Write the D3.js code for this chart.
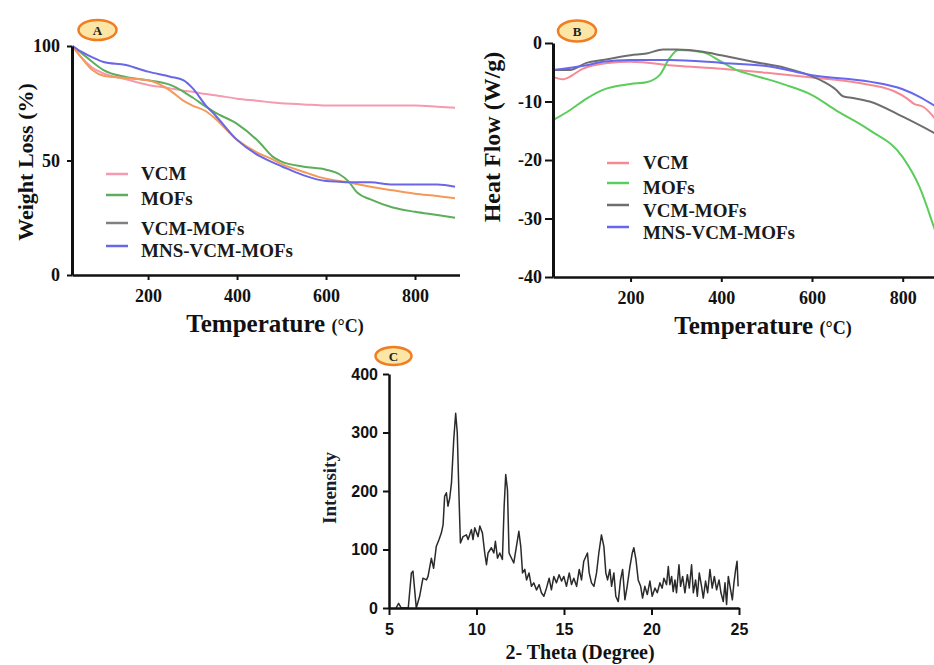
<!DOCTYPE html>
<html>
<head>
<meta charset="utf-8">
<script src="https://cdn.jsdelivr.net/npm/d3@7"></script>
<style>
  body { margin: 0; background: #fff; }
  svg { display: block; }
</style>
</head>
<body>
<script>
// ---- data ----

// Panel A: TGA (weight %, vs temperature)
const tgaTemp = [30, 50, 75, 100, 150, 200, 250, 280, 300, 330, 350, 400, 450, 480, 500, 550, 600, 630, 650, 670, 700, 750, 800, 850, 890];
const tgaVcm = [100, 95, 90.5, 88, 85.5, 83, 81.5, 80.5, 80, 79, 78.5, 77, 76, 75.3, 75, 74.5, 74, 74, 74, 74, 74, 74, 74, 73.5, 73];
const tgaMofs = [100, 97, 93, 89.5, 86.5, 85, 83, 80, 77.5, 73.5, 71, 66, 58, 51.7, 49.5, 47.3, 46, 44, 41, 36, 33, 29.5, 27.6, 26.2, 25];
const tgaVcmMofs = [100, 95, 89.5, 87, 86, 85, 80.5, 76, 74, 71.5, 68.5, 59, 53, 50.5, 48.5, 45, 42, 41, 40.5, 39.7, 38.5, 37, 35.5, 34.5, 33.5];
const tgaMns = [100, 97.5, 95, 93, 91.7, 88.8, 86.6, 85, 81.6, 74, 70, 59, 52, 49.2, 47.5, 43.5, 41, 40.7, 40.5, 40.5, 40.5, 39.5, 39.5, 39.5, 38.5];

// Panel B: DSC (heat flow W/g vs temperature), [temp, value]
const dscVcm = [[29, -5.8], [50, -6.2], [70, -5.6], [90, -4.6], [120, -3.8], [150, -3.4], [200, -3.2], [300, -3.9], [400, -4.4], [500, -5.1], [600, -5.9], [700, -6.8], [780, -8.2], [810, -9.5], [825, -10.4], [845, -10.9], [880, -13.8]];
const dscMofs = [[29, -13.2], [66, -11.5], [103, -9.5], [139, -8.0], [200, -7.0], [235, -6.7], [264, -5.5], [286, -2.6], [305, -1.2], [360, -1.6], [400, -3.2], [433, -4.6], [470, -5.5], [507, -6.3], [543, -7.2], [600, -8.9], [653, -11.5], [727, -14.9], [800, -19.5], [837, -24.6], [869, -31.5], [880, -34]];
const dscVcmMofs = [[29, -4.6], [66, -4.6], [103, -3.4], [139, -2.9], [200, -2.1], [235, -1.8], [272, -1.1], [301, -1.1], [360, -1.5], [400, -2.1], [470, -3.2], [543, -4.3], [600, -5.7], [625, -6.6], [653, -8.0], [668, -9.1], [690, -9.4], [727, -10.0], [800, -12.6], [880, -15.8]];
const dscMns = [[29, -4.6], [103, -3.8], [139, -3.2], [200, -2.9], [286, -2.9], [400, -3.4], [507, -4.0], [600, -5.5], [727, -6.6], [800, -7.9], [837, -9.2], [880, -11.2]];

// Panel C: XRD
const xrdTheta = [5.4, 5.55, 5.7, 6.1, 6.28, 6.37, 6.56, 6.75, 6.94, 7.14, 7.23, 7.42, 7.55, 7.7, 7.86, 7.99, 8.09, 8.18, 8.28, 8.37, 8.47, 8.57, 8.7, 8.81, 8.9, 9.0, 9.08, 9.23, 9.42, 9.52, 9.71, 9.8, 9.9, 10.09, 10.19, 10.34, 10.47, 10.57, 10.66, 10.85, 10.99, 11.08, 11.2, 11.33, 11.48, 11.58, 11.67, 11.77, 11.86, 12.0, 12.13, 12.28, 12.42, 12.53, 12.63, 12.76, 12.86, 13.0, 13.14, 13.27, 13.43, 13.58, 13.71, 13.85, 14.0, 14.15, 14.28, 14.42, 14.57, 14.72, 14.86, 14.99, 15.14, 15.3, 15.43, 15.56, 15.72, 15.87, 16.0, 16.13, 16.25, 16.34, 16.44, 16.57, 16.71, 16.86, 16.99, 17.14, 17.28, 17.39, 17.49, 17.62, 17.72, 17.85, 17.96, 18.1, 18.23, 18.35, 18.48, 18.61, 18.77, 18.9, 18.99, 19.11, 19.24, 19.38, 19.49, 19.62, 19.76, 19.91, 20.04, 20.2, 20.33, 20.48, 20.61, 20.71, 20.86, 20.96, 21.05, 21.15, 21.24, 21.34, 21.43, 21.57, 21.66, 21.78, 21.91, 22.05, 22.16, 22.29, 22.39, 22.52, 22.62, 22.73, 22.86, 22.96, 23.09, 23.21, 23.34, 23.47, 23.59, 23.72, 23.86, 23.97, 24.1, 24.2, 24.29, 24.39, 24.52, 24.62, 24.71, 24.81, 24.89, 24.95];
const xrdCounts = [0, 8, 0, 0, 60, 63, 0, 20, 51, 48, 54, 85, 68, 105, 117, 128, 142, 191, 197, 174, 188, 214, 288, 333, 300, 191, 111, 122, 125, 117, 134, 117, 137, 122, 140, 128, 94, 74, 94, 103, 94, 114, 85, 94, 83, 174, 228, 202, 94, 85, 77, 105, 131, 105, 60, 66, 48, 60, 37, 43, 31, 40, 26, 20, 34, 51, 31, 54, 43, 57, 46, 54, 37, 60, 40, 51, 37, 66, 48, 80, 88, 94, 60, 43, 37, 60, 94, 125, 105, 60, 48, 66, 37, 60, 20, 11, 48, 66, 14, 37, 71, 94, 103, 83, 48, 37, 17, 37, 23, 46, 20, 34, 26, 43, 34, 51, 40, 71, 40, 54, 28, 48, 26, 74, 37, 54, 26, 57, 34, 74, 26, 48, 20, 60, 37, 17, 46, 26, 66, 34, 54, 31, 48, 26, 11, 43, 6, 54, 31, 14, 43, 66, 80, 37];

const seriesNames = ['VCM', 'MOFs', 'VCM-MOFs', 'MNS-VCM-MOFs'];
const tempTicks = [200, 400, 600, 800];

// colours
const colA = ['#f59aaf', '#5cae5c', '#f4995a', '#6a66e8'];
const colB = ['#f48a94', '#5ccc5c', '#6e6e6e', '#6666ee'];
const legendColA = ['#f59aaf', '#5cae5c', '#808080', '#6a66e8'];

const serif = '"Liberation Serif", "Times New Roman", serif';
const sans = '"Liberation Sans", Arial, sans-serif';
const plain = d => String(d); // keep ascii hyphen for negatives

const svg = d3.select('body').append('svg')
  .attr('width', 934)
  .attr('height', 665);

function styleAxis(g, fontFamily, fontSize, strokeW) {
  g.selectAll('path.domain').attr('stroke', '#111').attr('stroke-width', strokeW);
  g.selectAll('.tick line').attr('stroke', '#111').attr('stroke-width', 2);
  g.selectAll('.tick text')
    .attr('fill', '#111')
    .style('font-family', fontFamily)
    .style('font-weight', 'bold')
    .style('font-size', fontSize + 'px');
}

function badge(cx, cy, rx, ry, letter) {
  svg.append('ellipse')
    .attr('cx', cx).attr('cy', cy).attr('rx', rx).attr('ry', ry)
    .attr('fill', '#fbe6a6').attr('stroke', '#f07d22').attr('stroke-width', 2.5);
  svg.append('text')
    .attr('x', cx).attr('y', cy + 5)
    .attr('text-anchor', 'middle')
    .style('font-family', serif).style('font-weight', 'bold').style('font-size', '13px')
    .attr('fill', '#222')
    .text(letter);
}

function tempLabel(cx, y) {
  const t = svg.append('text')
    .attr('x', cx).attr('y', y)
    .attr('text-anchor', 'middle')
    .style('font-family', serif).style('font-weight', 'bold')
    .attr('fill', '#111');
  t.append('tspan').style('font-size', '25px').text('Temperature ');
  t.append('tspan').style('font-size', '18px').text('(°C)');
}

function legend(x0, x1, tx, lineYs, textYs, colors) {
  seriesNames.forEach((name, i) => {
    svg.append('line')
      .attr('x1', x0).attr('x2', x1)
      .attr('y1', lineYs[i]).attr('y2', lineYs[i])
      .attr('stroke', colors[i]).attr('stroke-width', 2.5);
    svg.append('text')
      .attr('x', tx).attr('y', textYs[i])
      .style('font-family', serif).style('font-weight', 'bold').style('font-size', '19px')
      .attr('fill', '#1a1a1a')
      .text(name);
  });
}

// ---------------- Panel A ----------------
const xA = d3.scaleLinear().domain([29, 900]).range([72, 459.5]);
const yA = d3.scaleLinear().domain([0, 100]).range([275, 46]);

const lineA = d3.line()
  .x(d => xA(d[0]))
  .y(d => yA(d[1]))
  .curve(d3.curveMonotoneX);

[tgaVcm, tgaMofs, tgaVcmMofs, tgaMns].forEach((vals, i) => {
  svg.append('path')
    .datum(tgaTemp.map((t, j) => [t, vals[j]]))
    .attr('d', lineA)
    .attr('fill', 'none')
    .attr('stroke', colA[i])
    .attr('stroke-width', 2);
});

svg.append('g')
  .attr('transform', 'translate(0,275)')
  .call(d3.axisBottom(xA).tickValues(tempTicks).tickFormat(plain).tickSize(5).tickPadding(9).tickSizeOuter(0))
  .call(g => styleAxis(g, serif, 18, 2.5));
svg.append('g')
  .attr('transform', 'translate(72,0)')
  .call(d3.axisLeft(yA).tickValues([0, 50, 100]).tickFormat(plain).tickSize(5).tickPadding(7).tickSizeOuter(0))
  .call(g => styleAxis(g, serif, 18, 3));

svg.append('text')
  .attr('transform', 'translate(33,162) rotate(-90)')
  .attr('text-anchor', 'middle')
  .style('font-family', serif).style('font-weight', 'bold').style('font-size', '22px')
  .attr('fill', '#111')
  .text('Weight Loss (%)');
tempLabel(275, 332);
legend(106, 128, 141, [174, 195, 223, 246], [180, 205, 235, 257], legendColA);
badge(97.5, 30, 19, 10, 'A');

// ---------------- Panel B ----------------
const xB = d3.scaleLinear().domain([29, 880]).range([553, 939]);
const yB = d3.scaleLinear().domain([-40, 0]).range([277, 43]);

const lineB = d3.line()
  .x(d => xB(d[0]))
  .y(d => yB(d[1]))
  .curve(d3.curveMonotoneX);

[dscVcm, dscMofs, dscVcmMofs, dscMns].forEach((data, i) => {
  svg.append('path')
    .datum(data)
    .attr('d', lineB)
    .attr('fill', 'none')
    .attr('stroke', colB[i])
    .attr('stroke-width', 2);
});

svg.append('g')
  .attr('transform', 'translate(0,277)')
  .call(d3.axisBottom(xB).tickValues(tempTicks).tickFormat(plain).tickSize(5).tickPadding(9).tickSizeOuter(0))
  .call(g => styleAxis(g, serif, 18, 2.5));
svg.append('g')
  .attr('transform', 'translate(553,0)')
  .call(d3.axisLeft(yB).tickValues([-40, -30, -20, -10, 0]).tickFormat(plain).tickSize(8).tickPadding(3).tickSizeOuter(0))
  .call(g => styleAxis(g, serif, 18, 3));

svg.append('text')
  .attr('transform', 'translate(500,137) rotate(-90)')
  .attr('text-anchor', 'middle')
  .style('font-family', serif).style('font-weight', 'bold').style('font-size', '24px')
  .attr('fill', '#111')
  .text('Heat Flow  (W/g)');
tempLabel(763, 334);
legend(607, 629, 643, [163, 183, 205, 227], [169, 194, 217, 239], colB);
badge(577, 31, 19, 10.5, 'B');

// ---------------- Panel C ----------------
const xC = d3.scaleLinear().domain([5, 25]).range([389, 739]);
const yC = d3.scaleLinear().domain([0, 400]).range([608, 374]);

svg.append('path')
  .datum(xrdTheta.map((t, i) => [t, xrdCounts[i]]))
  .attr('d', d3.line().x(d => xC(d[0])).y(d => yC(d[1])))
  .attr('fill', 'none')
  .attr('stroke', '#2a2a2a')
  .attr('stroke-width', 1.5)
  .attr('stroke-linejoin', 'round');

svg.append('g')
  .attr('transform', 'translate(0,608)')
  .call(d3.axisBottom(xC).tickValues([5, 10, 15, 20, 25]).tickFormat(plain).tickSize(7).tickPadding(9).tickSizeOuter(0))
  .call(g => styleAxis(g, sans, 16, 2.5));
svg.append('g')
  .attr('transform', 'translate(389,0)')
  .call(d3.axisLeft(yC).tickValues([0, 100, 200, 300, 400]).tickFormat(plain).tickSize(6).tickPadding(5).tickSizeOuter(0))
  .call(g => styleAxis(g, sans, 16, 2.5));

svg.append('text')
  .attr('transform', 'translate(336,488) rotate(-90)')
  .attr('text-anchor', 'middle')
  .style('font-family', serif).style('font-weight', 'bold').style('font-size', '19px')
  .attr('fill', '#1c1c30')
  .text('Intensity');
svg.append('text')
  .attr('x', 580).attr('y', 659)
  .attr('text-anchor', 'middle')
  .style('font-family', serif).style('font-weight', 'bold').style('font-size', '20px')
  .attr('fill', '#111')
  .text('2- Theta (Degree)');
badge(393.5, 356, 18, 9, 'C');
</script>
</body>
</html>
